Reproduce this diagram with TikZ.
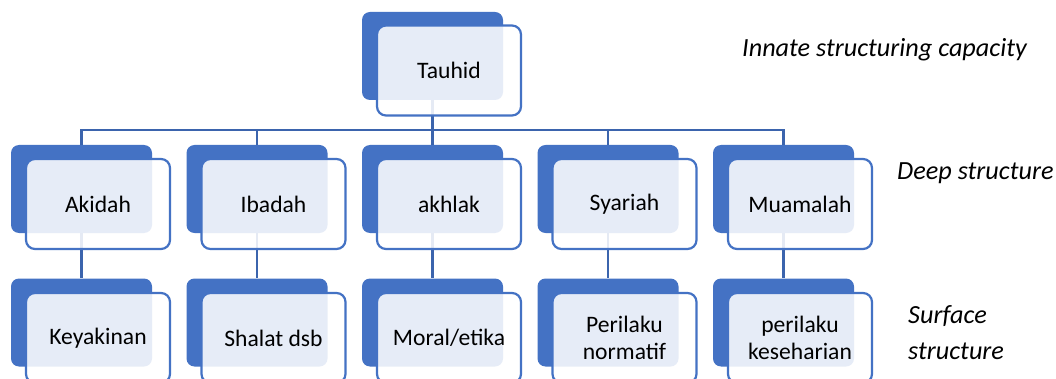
\documentclass[tikz,border=0pt]{standalone}
\usepackage{fontspec}
\setmainfont{Carlito}
\definecolor{accent}{HTML}{4472C4}
\definecolor{linkc}{HTML}{3B64AD}
\tikzset{
  backbox/.style={fill=accent, rounded corners=8pt, minimum width=141pt, minimum height=88pt, inner sep=0pt},
  frontbox/.style={draw=accent, line width=2.2pt, fill=white, fill opacity=0.87, text opacity=1, draw opacity=1,
    rounded corners=9pt, minimum width=144pt, minimum height=90pt, inner sep=0pt, align=center,
    font=\fontsize{23.6}{26.7}\selectfont},
  link/.style={draw=linkc, line width=2.4pt},
  side/.style={font=\fontsize{26.2}{30}\selectfont\itshape, inner sep=0pt, anchor=base west}
}
\begin{document}
\begin{tikzpicture}[x=1pt,y=-1pt]
\clip (0,0) rectangle (1056,379);
\fill[white] (0,0) rectangle (1056,379);
% back boxes
\node[backbox] (tB) at (432.5,56) {};
\node[backbox] (aB) at (81.5,189) {};
\node[backbox] (iB) at (257,189) {};
\node[backbox] (hB) at (432.5,189) {};
\node[backbox] (sB) at (608,189) {};
\node[backbox] (mB) at (783.5,189) {};
\node[backbox] (kB) at (81.5,322.5) {};
\node[backbox] (dB) at (257,322.5) {};
\node[backbox] (eB) at (432.5,322.5) {};
\node[backbox] (nB) at (608,322.5) {};
\node[backbox] (rB) at (783.5,322.5) {};
% connectors
\coordinate (bus) at (432.5,130);
\draw[link] (tB.south) -- (tB.south |- bus);
\foreach \c in {aB,iB,hB,sB,mB} {
  \draw[link] (tB.south |- bus) -| (\c.north);
}
\draw[link] (aB.south) -- (kB.north);
\draw[link] (iB.south) -- (dB.north);
\draw[link] (hB.south) -- (eB.north);
\draw[link] (sB.south) -- (nB.north);
\draw[link] (mB.south) -- (rB.north);
% front boxes
\node[frontbox] (t) at (449,70.5) {Tauhid};
\node[frontbox] (a) at (98,204) {Akidah};
\node[frontbox] (i) at (273.5,204) {Ibadah};
\node[frontbox] (h) at (449,204) {akhlak};
\node[frontbox] (s) at (624.5,204) {Syariah};
\node[frontbox] (m) at (800,204) {Muamalah};
\node[frontbox] (k) at (98,338) {Keyakinan};
\node[frontbox] (d) at (273.5,338) {Shalat dsb};
\node[frontbox] (e) at (449,338) {Moral/etika};
\node[frontbox] (n) at (624.5,338) {Perilaku\\normatif};
\node[frontbox] (r) at (800,338) {perilaku\\keseharian};
% side labels
\node[side] (l1) at (742,57) {Innate structuring capacity};
\node[side] (l2) at (897,180) {Deep structure};
\node[side] (l3) at (908,323) {Surface};
\node[side] (l4) at (908,359.5) {structure};
\end{tikzpicture}
\end{document}
